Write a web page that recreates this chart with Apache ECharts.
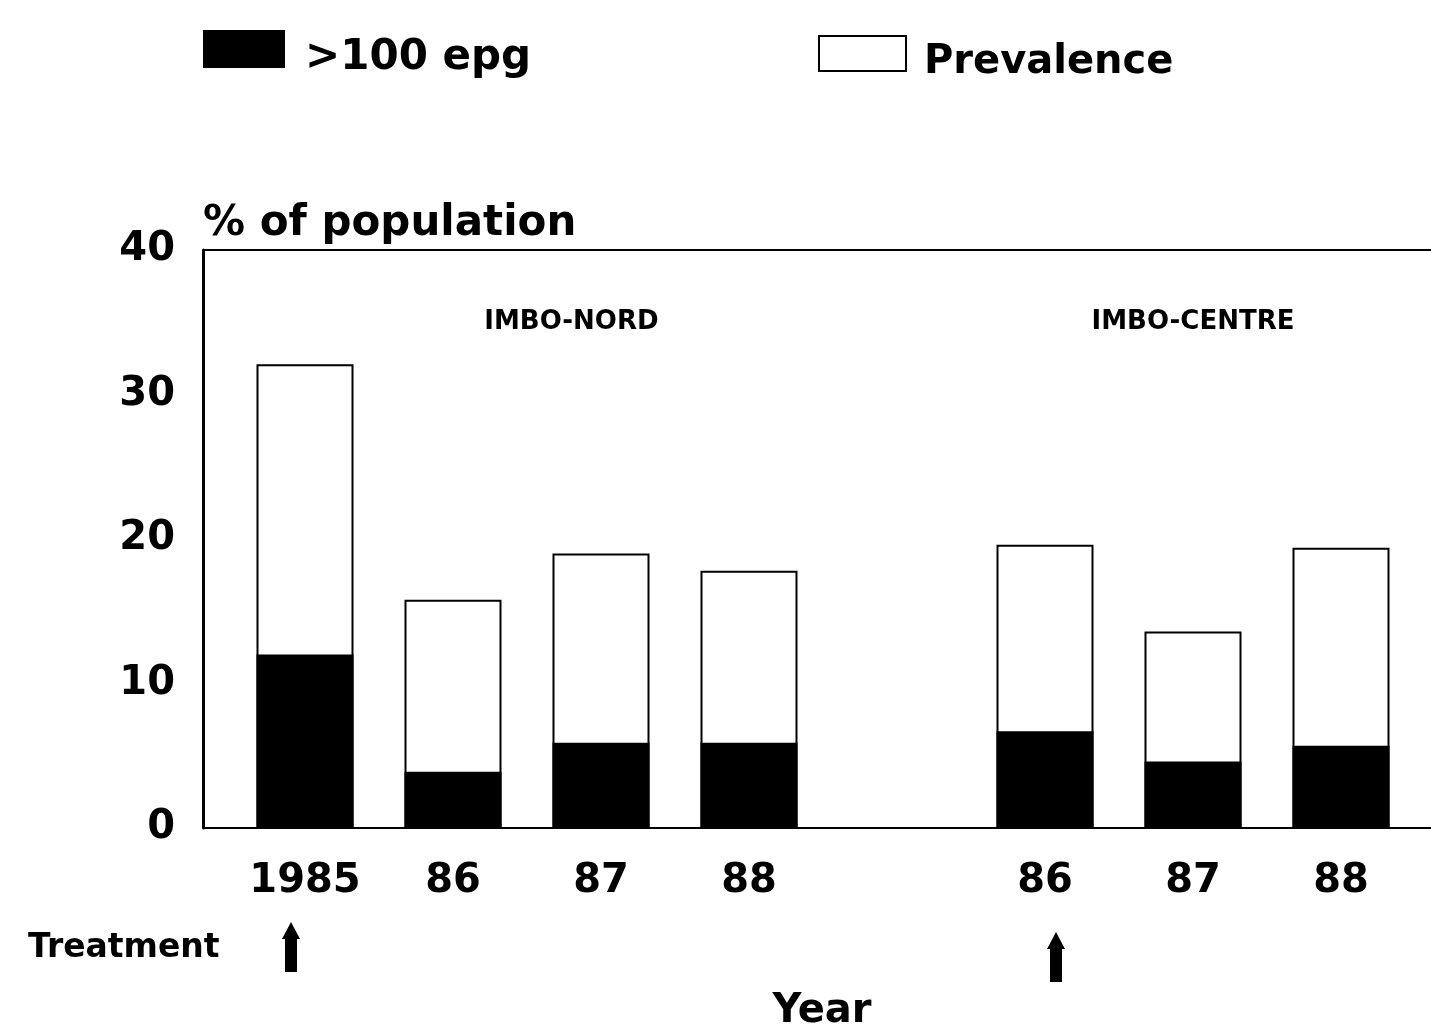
<!DOCTYPE html>
<html>
<head>
<meta charset="utf-8">
<title>Prevalence and heavy infection by year</title>
<script src="https://cdn.jsdelivr.net/npm/echarts@6/dist/echarts.min.js"></script>
<style>
  html, body { margin: 0; padding: 0; background: #fff; }
  #chart { width: 1431px; height: 1029px; }
</style>
</head>
<body>
<div id="chart"></div>
<script>
// Survey years; the blank slot separates the two areas.
const categories = ['1985', '86', '87', '88', '', '86', '87', '88'];
// % of population infected (prevalence) and % with >100 eggs per gram.
const prevalence = [32.1, 15.8, 19.0, 17.8, null, 19.6, 13.6, 19.4];
const heavy      = [12.0, 3.9, 5.9, 5.9, null, 6.7, 4.6, 5.7];
// Value axis ticks.
const yMin = 0, yMax = 40, yStep = 10;
// Area captions: category position (fractional index) and height in % units.
const areaNames = [
  { text: 'IMBO-NORD',   at: 1.8, y: 35 },
  { text: 'IMBO-CENTRE', at: 6.0, y: 35 }
];
// Treatment rounds, by category index.
const treatmentAt = [0, 5];

const FONT = 'DejaVu Sans';
const chart = echarts.init(document.getElementById('chart'), null, { renderer: 'canvas' });

// Legend labels sit a little lower than the centre of their swatch.
function legendText(size, left) {
  return {
    fontFamily: FONT, fontWeight: 'bold', fontSize: size, color: '#000',
    rich: {
      t: {
        fontFamily: FONT, fontWeight: 'bold', fontSize: size, color: '#000',
        padding: [18, 0, 0, left]
      }
    }
  };
}

const option = {
  animation: false,
  backgroundColor: '#fff',
  textStyle: { fontFamily: FONT, color: '#000' },
  legend: [
    {
      data: [{ name: '>100 epg', icon: 'rect' }], left: 203, top: 30, padding: 0,
      itemWidth: 82, itemHeight: 38,
      selectedMode: false,
      formatter: '{t|{name}}',
      textStyle: legendText(42, 15)
    },
    {
      data: [{ name: 'Prevalence', icon: 'rect' }], left: 818, top: 35, padding: 0,
      itemWidth: 87, itemHeight: 35,
      selectedMode: false,
      formatter: '{t|{name}}',
      textStyle: legendText(40, 13)
    }
  ],
  grid: { left: 231, right: 16, top: 250, bottom: 201, containLabel: false },
  xAxis: {
    type: 'category',
    data: categories,
    axisLine: { show: false },
    axisTick: { show: false },
    axisLabel: {
      interval: 0, margin: 34, color: '#000',
      fontFamily: FONT, fontWeight: 'bold', fontSize: 40
    }
  },
  yAxis: {
    type: 'value',
    min: yMin, max: yMax, interval: yStep,
    offset: 28,
    name: '% of population',
    nameLocation: 'end',
    nameGap: 26,
    nameTextStyle: {
      fontFamily: FONT, fontWeight: 'bold', fontSize: 42, color: '#000',
      align: 'left', verticalAlign: 'middle'
    },
    axisLine: { show: true, lineStyle: { color: '#000', width: 3 } },
    axisTick: { show: false },
    splitLine: { show: false },
    axisLabel: {
      margin: 28, color: '#000',
      fontFamily: FONT, fontWeight: 'bold', fontSize: 40
    }
  },
  series: [
    {
      name: 'Prevalence',
      type: 'bar',
      data: prevalence,
      barWidth: 97,
      itemStyle: { color: '#fff', borderColor: '#000', borderWidth: 2 }
    },
    {
      name: '>100 epg',
      type: 'bar',
      data: heavy,
      barWidth: 97,
      barGap: '-100%',
      itemStyle: { color: '#000' }
    }
  ]
};

chart.setOption(option);

// Frame lines, captions, treatment arrows and labels placed from the axes.
function px(idx, val) {
  return chart.convertToPixel({ gridIndex: 0 }, [idx, val]);
}
const W = chart.getWidth();
const baseY = px(0, yMin)[1];
const topY = px(0, yMax)[1];
const gridLeft = option.grid.left - option.yAxis.offset;

const graphics = [];
// top border and baseline
graphics.push({
  type: 'line', silent: true,
  shape: { x1: gridLeft, y1: topY, x2: W, y2: topY },
  style: { stroke: '#000', lineWidth: 2 }
});
graphics.push({
  type: 'line', silent: true,
  shape: { x1: gridLeft, y1: baseY, x2: W, y2: baseY },
  style: { stroke: '#000', lineWidth: 2 }
});

// area captions
areaNames.forEach(a => {
  const i0 = Math.floor(a.at), f = a.at - i0;
  const p0 = px(i0, a.y), p1 = px(Math.min(i0 + 1, categories.length - 1), a.y);
  const x = p0[0] + f * (p1[0] - p0[0]);
  graphics.push({
    type: 'text', silent: true, x: x, y: p0[1],
    style: {
      text: a.text, fill: '#000', font: 'bold 26px "' + FONT + '"',
      align: 'center', verticalAlign: 'middle'
    }
  });
});

// treatment arrows below the year labels
const arrowShift = [-14, 11];
treatmentAt.forEach((idx, k) => {
  const cx = px(idx, 0)[0] + arrowShift[k];
  const tip = baseY + 94 + (k === 1 ? 10 : 0);
  const bottom = tip + 50;
  graphics.push({
    type: 'polygon', silent: true,
    shape: {
      points: [
        [cx, tip], [cx + 9, tip + 17], [cx + 6, tip + 17], [cx + 6, bottom],
        [cx - 6, bottom], [cx - 6, tip + 17], [cx - 9, tip + 17]
      ]
    },
    style: { fill: '#000' }
  });
});

graphics.push({
  type: 'text', silent: true, x: 28, y: 948,
  style: {
    text: 'Treatment', fill: '#000', font: 'bold 33px "' + FONT + '"',
    align: 'left', verticalAlign: 'middle'
  }
});
graphics.push({
  type: 'text', silent: true, x: 822, y: 1012,
  style: {
    text: 'Year', fill: '#000', font: 'bold 40px "' + FONT + '"',
    align: 'center', verticalAlign: 'middle'
  }
});

chart.setOption({ graphic: graphics });
</script>
</body>
</html>
